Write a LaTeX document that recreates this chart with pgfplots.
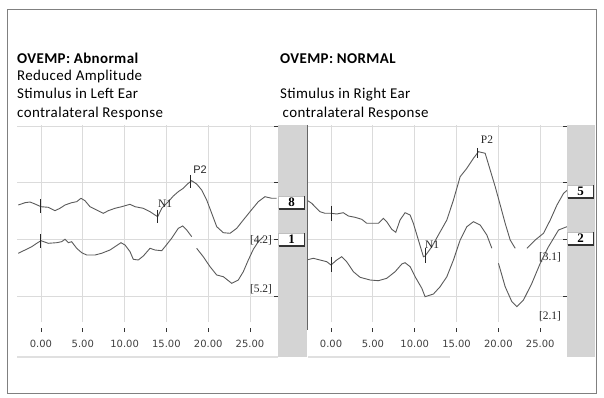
\documentclass[border=0pt]{standalone}
\usepackage{pgfplots}
\pgfplotsset{compat=1.18}
\usepackage{fontspec}
\setmainfont{Liberation Serif}
\newfontfamily\calfont[LetterSpace=2.5]{Carlito}
\newfontfamily\tmsfont{Liberation Serif}
\newfontfamily\arsfont{Liberation Sans}
\newfontfamily\dvfont{DejaVu Sans}
\definecolor{trace}{HTML}{5A5A5A}
\definecolor{hatch}{HTML}{D4D4D4}
\pgfplotsset{
  panel/.style={
    scale only axis, height=197bp,
    ymin=76, ymax=273,
    xtick={0,5,10,15,20,25},
    /pgf/number format/assume math mode=true,
    xticklabel={\pgfmathprintnumber[fixed,fixed zerofill,precision=2]{\tick}},
    ytick={102,159,216,272}, yticklabels={},
    xtick pos=lower, ytick pos=upper,
    tick align=inside, major tick length=4bp,
    x tick style={draw=black!80, line width=0.8bp, yshift=-10bp},
    y tick style={draw=black!80, line width=0.8bp},
    grid=major, grid style={black!14, line width=0.8bp},
    axis line style={draw=none},
    xticklabel style={yshift=-15bp, font=\dvfont\fontsize{10}{12}\selectfont, text=black!75},
    unbounded coords=jump,
  },
  wave/.style={trace, line width=0.9bp, mark=none},
  mk/.style={black!85, line width=1bp, mark=none},
}
\begin{document}
\begin{tikzpicture}
\path[use as bounding box] (0,0) rectangle (604bp,398bp);
\draw[black!50, line width=0.8bp] (7bp,5bp) rectangle (596bp,389bp);
\fill[hatch] (278bp,41bp) rectangle (307bp,273bp);
\fill[hatch] (567bp,41bp) rectangle (595bp,273bp);
\draw[black!12, line width=2.5bp] (17bp,41bp) -- (278bp,41bp);
\draw[black!12, line width=2.5bp] (308bp,41bp) -- (450bp,41bp);

% titles
\node[anchor=base west, inner sep=0pt, font=\calfont\bfseries\fontsize{15}{16}\selectfont] at (17bp,334.7bp) {OVEMP: Abnormal};
\node[anchor=base west, inner sep=0pt, font=\calfont\fontsize{15}{16}\selectfont] at (17bp,317.3bp) {Reduced Amplitude};
\node[anchor=base west, inner sep=0pt, font=\calfont\fontsize{15}{16}\selectfont] at (17bp,299.7bp) {Stimulus in Left Ear};
\node[anchor=base west, inner sep=0pt, font=\calfont\fontsize{15}{16}\selectfont] at (17bp,280.5bp) {contralateral Response};
\node[anchor=base west, inner sep=0pt, font=\calfont\bfseries\fontsize{15}{16}\selectfont] at (280bp,334.7bp) {OVEMP: NORMAL};
\node[anchor=base west, inner sep=0pt, font=\calfont\fontsize{15}{16}\selectfont] at (280bp,299.7bp) {Stimulus in Right Ear};
\node[anchor=base west, inner sep=0pt, font=\calfont\fontsize{15}{16}\selectfont] at (282.5bp,280.5bp) {contralateral Response};

% left panel
\begin{axis}[panel, at={(17bp,76bp)}, anchor=south west, width=261bp,
  xmin=-2.87, xmax=28.35]
\addplot[wave] coordinates {
(-2.72,193) (-1.91,195.3) (-1.32,196) (-0.72,194) (0,191.3) (0.87,190.7)
(1.67,187.3) (2.27,189.7) (2.87,193) (3.67,195.3) (4.27,196.3) (4.78,199.7)
(5.26,197.3) (5.86,191.3) (6.66,188) (7.45,184.7) (8.05,187.3) (8.85,189.7)
(9.65,191.3) (10.65,193.7) (11.24,191.3) (12.24,189.7) (13.04,186.3) (13.64,183)
(13.96,181.3) (14.44,189.7) (15.23,196.3)
(15.83,202) (16.42,206.3) (17.02,209.7) (17.62,214.7) (18.03,217.3) (18.62,214)
(19.22,208) (19.82,198) (20.42,184.7) (21.02,171.3) (21.81,165.3) (22.61,164.7)
(23.41,169.7) (24.2,178) (25.0,186.3) (25.99,196.3) (26.79,201.3) (27.6,199.7) (28.19,199.7)};
\addplot[wave] coordinates {
(-2.72,144.7) (-1.91,148) (-1.11,151.3) (-0.51,154.7) (0,157.3) (0.87,154.7)
(1.87,155.3) (2.47,156.3) (2.87,158.7) (3.27,155.3) (3.67,156.3) (4.27,149.7)
(4.87,145.3) (5.46,143) (6.46,143) (7.25,144.7) (8.25,148) (8.85,151.3)
(9.57,155.3) (10.05,153) (10.65,146.3) (11.04,138.7) (11.64,138) (12.24,142)
(13.04,149.7) (13.64,148) (14.44,147.3) (14.83,151.3)
(15.63,159.7) (16.42,169.7) (16.95,172) (17.43,168) (18.03,161.3) (18.3,nan)
(18.62,149.7) (19.41,141.3) (20.22,131.3) (21.02,123) (21.81,121.3) (22.81,114.7)
(23.6,118) (24.2,126.3) (24.8,138) (25.4,148.7) (25.99,156.3) (26.59,161.3)};
% markers
\addplot[mk] coordinates {(0,199) (0,185)};
\addplot[mk] coordinates {(0,164) (0,150)};
\addplot[mk] coordinates {(13.96,188) (13.96,175)};
\addplot[mk] coordinates {(17.94,223) (17.94,210)};
\end{axis}

% right panel
\begin{axis}[panel, at={(307bp,76bp)}, anchor=south west, width=260bp,
  xmin=-2.87, xmax=28.2]
\addplot[wave] coordinates {
(-2.91,198) (-2.31,194.7) (-1.32,186.3) (-0.72,184.7) (0,184.7) (0.68,184)
(1.47,185.3) (2.07,182) (2.87,180.7) (3.67,178.7) (4.27,174.7) (5.66,174.7)
(6.26,179.7) (6.66,176.3) (7.26,168.7) (7.74,165.7) (8.25,178) (8.85,185.3)
(9.45,183) (9.84,174.7) (10.44,158) (11.04,141.3) (11.24,142)
(12.05,151.3) (12.83,163) (13.84,178) (14.63,198) (15.43,221.3)
(16.23,229.7) (17.02,239.7) (17.62,246.3) (18.42,244.7) (19.02,228) (19.62,211.3)
(20.22,193) (20.81,174.7) (21.41,158) (22.01,149.7) (22.5,nan)
(23.41,149.7) (24.4,158) (25.39,164.7) (26.2,178) (27.0,193) (27.79,204.7) (28.5,209.7)};
\addplot[wave] coordinates {
(-2.91,138) (-2.11,139.7) (-1.32,138) (-0.51,136.3) (0,133) (0.68,138)
(1.28,141.3) (1.87,136.3) (2.67,126.3) (3.47,120.7) (4.67,118) (5.66,117.3)
(6.66,119.7) (7.66,126.3) (8.46,134) (8.85,135.3) (9.45,131.3) (10.05,121.3)
(10.85,109.7) (11.24,101.3) (12.24,104)
(13.04,111.3) (13.84,121.3) (14.63,138) (15.43,158) (16.23,171.3) (17.02,176.3)
(17.82,173) (18.62,163) (19.22,149.7) (19.6,nan)
(20.01,134.7) (20.81,111.3) (21.61,96.3) (22.21,91.3) (23.0,98) (24.0,114.7)
(25.0,134.7) (25.99,151.3) (27.19,168) (28.19,171.3)};
\addplot[mk] coordinates {(0,192) (0,177)};
\addplot[mk] coordinates {(0,141) (0,126)};
\addplot[mk] coordinates {(11.24,150) (11.24,135)};
\addplot[mk] coordinates {(17.55,250) (17.55,240)};
\end{axis}
\draw[black!60, line width=0.8bp] (307bp,273bp) -- (307bp,68bp);

% annotations
\node[font=\tmsfont\fontsize{11.5}{12}\selectfont, text=black!85] at (165bp,194bp) {N1};
\node[font=\arsfont\fontsize{11}{12}\selectfont, text=black!85] at (200bp,228bp) {P2};
\node[font=\tmsfont\fontsize{11.5}{12}\selectfont, text=black!85] at (261bp,158bp) {[4.2]};
\node[font=\tmsfont\fontsize{11.5}{12}\selectfont, text=black!85] at (261bp,109bp) {[5.2]};
\node[font=\tmsfont\fontsize{11.5}{12}\selectfont, text=black!85] at (432bp,153bp) {N1};
\node[font=\tmsfont\fontsize{11.5}{12}\selectfont, text=black!85] at (487bp,258bp) {P2};
\node[font=\tmsfont\fontsize{11.5}{12}\selectfont, text=black!85] at (550bp,141bp) {[3.1]};
\node[font=\tmsfont\fontsize{11.5}{12}\selectfont, text=black!85] at (550bp,82bp) {[2.1]};

% channel boxes
\foreach \cx/\cy/\lab in {291.5/195.5/8, 291.5/158.5/1, 580.5/206.5/5, 580.5/159.5/2}{
  \fill[white] (\cx bp-13bp,\cy bp-6.5bp) rectangle (\cx bp+13bp,\cy bp+6.5bp);
  \draw[black!25, line width=0.8bp] (\cx bp-13bp,\cy bp-6.5bp) -- (\cx bp-13bp,\cy bp+6.5bp) -- (\cx bp+13bp,\cy bp+6.5bp);
  \draw[black!80, line width=1.2bp] (\cx bp-13bp,\cy bp-6.5bp) -- (\cx bp+13bp,\cy bp-6.5bp) -- (\cx bp+13bp,\cy bp+6.5bp);
  \node[font=\tmsfont\bfseries\fontsize{13}{13}\selectfont] at (\cx bp,\cy bp) {\lab};
}
\end{tikzpicture}
\end{document}
